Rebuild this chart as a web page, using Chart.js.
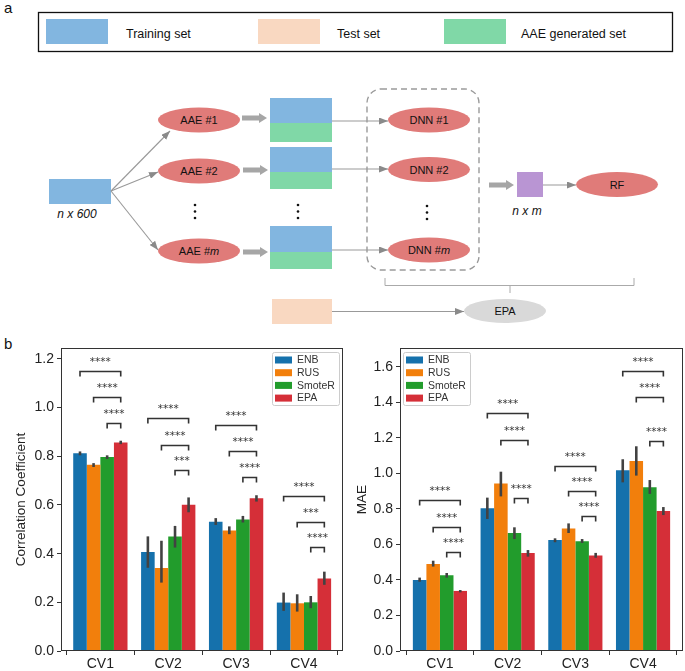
<!DOCTYPE html>
<html>
<head>
<meta charset="utf-8">
<script src="https://cdn.jsdelivr.net/npm/chart.js@4.4.0/dist/chart.umd.min.js"></script>
<style>
  body { margin: 0; background: #fff; }
  #page { position: relative; width: 685px; height: 671px; font-family: "Liberation Sans", Arial, sans-serif; }
  svg { position: absolute; left: 0; top: 0; }
  .lbl { position: absolute; font-size: 15px; color: #111; }
  #c1 { position: absolute; left: 0; top: 335px; }
  #c2 { position: absolute; left: 345px; top: 335px; }
</style>
</head>
<body>
<div id="page">
<svg width="685" height="335" font-family="Liberation Sans, Arial, sans-serif">
  <defs>
    <marker id="ah" markerWidth="9" markerHeight="7" refX="9" refY="3.5" orient="auto" markerUnits="userSpaceOnUse">
      <path d="M0,0 L9,3.5 L0,7 z" fill="#8a8a8a"/>
    </marker>
  </defs>
  <!-- legend of panel a -->
  <rect x="38.5" y="12.5" width="634" height="39" fill="#fff" stroke="#111" stroke-width="1.3"/>
  <rect x="46" y="19" width="62" height="25" fill="#82b6e0"/>
  <text x="126" y="37.5" font-size="12.5" fill="#111">Training set</text>
  <rect x="258" y="19" width="62" height="25" fill="#f9d8c1"/>
  <text x="337" y="37.5" font-size="12.5" fill="#111">Test set</text>
  <rect x="444" y="19" width="62" height="25" fill="#80d8a7"/>
  <text x="521" y="37.5" font-size="12.5" fill="#111">AAE generated set</text>

  <!-- input -->
  <rect x="49" y="179" width="62" height="25" fill="#82b6e0"/>
  <text x="77" y="218" font-size="12" font-style="italic" text-anchor="middle" fill="#111">n x 600</text>
  <g stroke="#999" stroke-width="1.1" fill="none">
    <line x1="111" y1="191" x2="170" y2="131" marker-end="url(#ah)"/>
    <line x1="111" y1="191" x2="158" y2="172" marker-end="url(#ah)"/>
    <line x1="111" y1="191" x2="158" y2="250" marker-end="url(#ah)"/>
  </g>

  <!-- AAE ellipses -->
  <g fill="#e07b79">
    <ellipse cx="199" cy="120" rx="41" ry="12.5"/>
    <ellipse cx="199" cy="171" rx="41" ry="12.5"/>
    <ellipse cx="199" cy="251" rx="41" ry="12.5"/>
  </g>
  <g font-size="11" text-anchor="middle" fill="#111">
    <text x="199" y="124">AAE #1</text>
    <text x="199" y="175">AAE #2</text>
    <text x="199" y="255">AAE #<tspan font-style="italic">m</tspan></text>
  </g>
  <g fill="#111">
    <circle cx="195" cy="205" r="1.3"/><circle cx="195" cy="211.5" r="1.3"/><circle cx="195" cy="218" r="1.3"/>
    <circle cx="298" cy="205" r="1.3"/><circle cx="298" cy="211.5" r="1.3"/><circle cx="298" cy="218" r="1.3"/>
    <circle cx="427" cy="206" r="1.3"/><circle cx="427" cy="212.5" r="1.3"/><circle cx="427" cy="219" r="1.3"/>
  </g>

  <!-- thick arrows -->
  <g fill="#a6a6a6">
    <path d="M242,115.5 L259,115.5 L259,113 L267,118 L259,123 L259,120.5 L242,120.5 z"/>
    <path d="M243,167.5 L260,167.5 L260,165 L268,170 L260,175 L260,172.5 L243,172.5 z"/>
    <path d="M243,249.5 L260,249.5 L260,247 L268,252 L260,257 L260,254.5 L243,254.5 z"/>
    <path d="M489,182.5 L506,182.5 L506,180 L514,185 L506,190 L506,187.5 L489,187.5 z"/>
  </g>

  <!-- augmented sets -->
  <rect x="270" y="98" width="62" height="25" fill="#82b6e0"/>
  <rect x="270" y="123" width="62" height="19" fill="#80d8a7"/>
  <rect x="270" y="147" width="62" height="25" fill="#82b6e0"/>
  <rect x="270" y="172" width="62" height="17" fill="#80d8a7"/>
  <rect x="270" y="226" width="62" height="26" fill="#82b6e0"/>
  <rect x="270" y="252" width="62" height="17" fill="#80d8a7"/>

  <g stroke="#999" stroke-width="1.1" fill="none">
    <line x1="332" y1="121" x2="388" y2="121" marker-end="url(#ah)"/>
    <line x1="332" y1="169" x2="388" y2="169" marker-end="url(#ah)"/>
    <line x1="332" y1="250" x2="388" y2="250" marker-end="url(#ah)"/>
    <line x1="543" y1="185" x2="576" y2="185" marker-end="url(#ah)"/>
    <line x1="332" y1="311.5" x2="464" y2="311.5" marker-end="url(#ah)"/>
  </g>

  <!-- DNN group -->
  <rect x="367" y="89" width="112" height="181" rx="14" ry="14" fill="none" stroke="#9a9a9a" stroke-width="1.4" stroke-dasharray="6 4"/>
  <g fill="#e07b79">
    <ellipse cx="429" cy="120" rx="41" ry="12.5"/>
    <ellipse cx="429" cy="169.5" rx="41" ry="12.5"/>
    <ellipse cx="429" cy="250" rx="41" ry="12.5"/>
    <ellipse cx="617" cy="184.5" rx="41" ry="12.5"/>
  </g>
  <g font-size="11" text-anchor="middle" fill="#111">
    <text x="429" y="124">DNN #1</text>
    <text x="429" y="173.5">DNN #2</text>
    <text x="429" y="254">DNN #<tspan font-style="italic">m</tspan></text>
    <text x="617" y="188.5">RF</text>
  </g>

  <rect x="517" y="172" width="26" height="25" fill="#b995d3"/>
  <text x="527" y="215" font-size="12" font-style="italic" text-anchor="middle" fill="#111">n x m</text>

  <!-- bracket to EPA -->
  <path d="M385,278 L385,285.5 L634,285.5 L634,278 M510,285.5 L510,293" stroke="#aaa" stroke-width="1" fill="none"/>
  <rect x="272" y="299" width="60" height="25" fill="#f9d8c1"/>
  <ellipse cx="505" cy="311" rx="41" ry="12" fill="#d9d9d9"/>
  <text x="505" y="315" font-size="11" text-anchor="middle" fill="#111">EPA</text>
</svg>
<div class="lbl" style="left:4px;top:-1px;">a</div>
<div class="lbl" style="left:4px;top:335px;">b</div>
<canvas id="c1" width="345" height="336"></canvas>
<canvas id="c2" width="340" height="336"></canvas>
</div>

<script>
const categories = ["CV1", "CV2", "CV3", "CV4"];
const methods = ["ENB", "RUS", "SmoteR", "EPA"];
const colors = ["#1571ac", "#f27f0c", "#229c2c", "#d52f38"];

// correlation coefficient (panel b, left)
const corrENB = [0.813, 0.407, 0.531, 0.199];
const corrRUS = [0.765, 0.341, 0.495, 0.196];
const corrSmoteR = [0.797, 0.470, 0.540, 0.200];
const corrEPA = [0.857, 0.601, 0.628, 0.298];
const corrENBci = [[0.804, 0.820], [0.342, 0.471], [0.518, 0.546], [0.165, 0.240]];
const corrRUSci = [[0.756, 0.772], [0.281, 0.453], [0.480, 0.512], [0.162, 0.233]];
const corrSmoteRci = [[0.789, 0.804], [0.425, 0.514], [0.528, 0.555], [0.176, 0.226]];
const corrEPAci = [[0.850, 0.864], [0.570, 0.631], [0.614, 0.640], [0.272, 0.326]];
const corrBrackets = [[1.151, 1.044, 0.937], [0.957, 0.848, 0.745], [0.930, 0.823, 0.717], [0.638, 0.529, 0.429]];
const corrStars = [["****", "****", "****"], ["****", "****", "***"], ["****", "****", "****"], ["****", "***", "****"]];
const corrTicks = [0, 0.2, 0.4, 0.6, 0.8, 1.0, 1.2];

// MAE (panel b, right)
const maeENB = [0.400, 0.803, 0.625, 1.017];
const maeRUS = [0.490, 0.942, 0.690, 1.069];
const maeSmoteR = [0.426, 0.664, 0.617, 0.921];
const maeEPA = [0.338, 0.552, 0.538, 0.788];
const maeENBci = [[0.390, 0.413], [0.743, 0.863], [0.612, 0.634], [0.949, 1.079]];
const maeRUSci = [[0.475, 0.508], [0.870, 1.009], [0.664, 0.718], [0.987, 1.152]];
const maeSmoteRci = [[0.413, 0.439], [0.630, 0.696], [0.608, 0.630], [0.884, 0.962]];
const maeEPAci = [[0.330, 0.343], [0.531, 0.568], [0.525, 0.552], [0.765, 0.810]];
const maeBrackets = [[0.850, 0.698, 0.555], [1.337, 1.187, 0.863], [1.041, 0.900, 0.762], [1.578, 1.428, 1.184]];
const maeStars = [["****", "****", "****"], ["****", "****", "****"], ["****", "****", "****"], ["****", "****", "****"]];
const maeTicks = [0, 0.2, 0.4, 0.6, 0.8, 1.0, 1.2, 1.4, 1.6];

const FONT = '"Liberation Sans", Arial, sans-serif';

const annotate = {
  id: "annotate",
  afterDatasetsDraw(chart, args, o) {
    const ctx = chart.ctx, ys = chart.scales.y, a = chart.chartArea;
    ctx.save();
    // error bars
    ctx.strokeStyle = "#424242";
    ctx.lineWidth = 2.6;
    o.ci.forEach((ser, i) => {
      chart.getDatasetMeta(i).data.forEach((bar, j) => {
        ctx.beginPath();
        ctx.moveTo(bar.x, ys.getPixelForValue(ser[j][0]));
        ctx.lineTo(bar.x, ys.getPixelForValue(ser[j][1]));
        ctx.stroke();
      });
    });
    // significance brackets, each method against EPA
    ctx.strokeStyle = "#333";
    ctx.lineWidth = 1.6;
    ctx.fillStyle = "#333";
    ctx.font = '10.5px "DejaVu Sans", sans-serif';
    ctx.textAlign = "center";
    ctx.textBaseline = "middle";
    const last = chart.getDatasetMeta(3).data;
    o.brackets.forEach((row, j) => row.forEach((h, k) => {
      const x1 = chart.getDatasetMeta(k).data[j].x, x2 = last[j].x;
      const y = Math.round(ys.getPixelForValue(h)) + 0.5;
      ctx.beginPath();
      ctx.moveTo(x1, y + 5);
      ctx.lineTo(x1, y);
      ctx.lineTo(x2, y);
      ctx.lineTo(x2, y + 5);
      ctx.stroke();
      ctx.fillText(o.stars[j][k], (x1 + x2) / 2, y - 9);
    }));
    // frame
    ctx.strokeStyle = "#333";
    ctx.lineWidth = 1;
    ctx.strokeRect(a.left + 0.5, a.top + 0.5, a.right - a.left - 1, a.bottom - a.top - 1);
    // legend
    const w = 67, h = 53;
    const lx = o.legendSide === "right" ? a.right - 4 - w : a.left + 3;
    const ly = a.top + 4;
    ctx.fillStyle = "rgba(255,255,255,0.85)";
    ctx.strokeStyle = "#cccccc";
    ctx.lineWidth = 1;
    ctx.beginPath();
    ctx.roundRect(lx + 0.5, ly + 0.5, w, h, 2);
    ctx.fill();
    ctx.stroke();
    ctx.font = "10.5px " + FONT;
    ctx.textAlign = "left";
    ctx.textBaseline = "middle";
    chart.data.datasets.forEach((ds, i) => {
      const cy = ly + 8 + i * 12.7;
      ctx.fillStyle = ds.backgroundColor;
      ctx.fillRect(lx + 3, cy - 3.5, 17, 7);
      ctx.fillStyle = "#333";
      ctx.fillText(ds.label, lx + 25, cy + 0.5);
    });
    ctx.restore();
  }
};

function makeChart(id, series, cfg) {
  return new Chart(document.getElementById(id), {
    type: "bar",
    data: {
      datasets: series.map((d, i) => ({
        label: methods[i],
        data: d.map((v, j) => ({ x: j, y: v })),
        backgroundColor: colors[i],
        borderWidth: 0,
        categoryPercentage: 0.8,
        barPercentage: 1.0,
      })),
    },
    options: {
      responsive: false,
      animation: false,
      layout: { padding: { top: 13, right: 2, left: 0, bottom: 0 } },
      plugins: {
        legend: { display: false },
        tooltip: { enabled: false },
        annotate: cfg.annot,
      },
      scales: {
        x: {
          type: "linear",
          min: cfg.xmin,
          max: cfg.xmax,
          offset: false,
          grid: { display: true, drawOnChartArea: false, drawTicks: true, tickLength: 4, color: "#333" },
          border: { display: false },
          ticks: { color: "#222", font: { size: 14, family: FONT }, padding: 1, callback: (v) => categories[v] },
          afterBuildTicks: (s) => { s.ticks = categories.map((c, i) => ({ value: i })); },
          afterFit: (s) => { s.height = 20; },
        },
        y: {
          min: 0,
          max: cfg.max,
          grid: { display: true, drawOnChartArea: false, drawTicks: true, tickLength: 4, color: "#333" },
          border: { display: false },
          ticks: { color: "#222", font: { size: 14, family: FONT }, padding: 3, callback: (v) => v.toFixed(1) },
          afterBuildTicks: (s) => { s.ticks = cfg.ticks.map((v) => ({ value: v })); },
          title: { display: true, text: cfg.title, color: "#222", font: { size: 13.5, family: FONT }, padding: { top: cfg.titlePad, bottom: 0 } },
          afterFit: (s) => { s.width = cfg.axisWidth; },
        },
      },
    },
    plugins: [annotate],
  });
}

makeChart("c1", [corrENB, corrRUS, corrSmoteR, corrEPA], {
  max: 1.245,
  xmin: -0.58,
  xmax: 3.575,
  ticks: corrTicks,
  title: "Correlation Coefficient",
  titlePad: 13,
  axisWidth: 61,
  annot: {
    ci: [corrENBci, corrRUSci, corrSmoteRci, corrEPAci],
    brackets: corrBrackets,
    stars: corrStars,
    legendSide: "right",
  },
});

makeChart("c2", [maeENB, maeRUS, maeSmoteR, maeEPA], {
  max: 1.705,
  xmin: -0.59,
  xmax: 3.59,
  ticks: maeTicks,
  title: "MAE",
  titlePad: 9,
  axisWidth: 55,
  annot: {
    ci: [maeENBci, maeRUSci, maeSmoteRci, maeEPAci],
    brackets: maeBrackets,
    stars: maeStars,
    legendSide: "left",
  },
});
</script>
</body>
</html>
